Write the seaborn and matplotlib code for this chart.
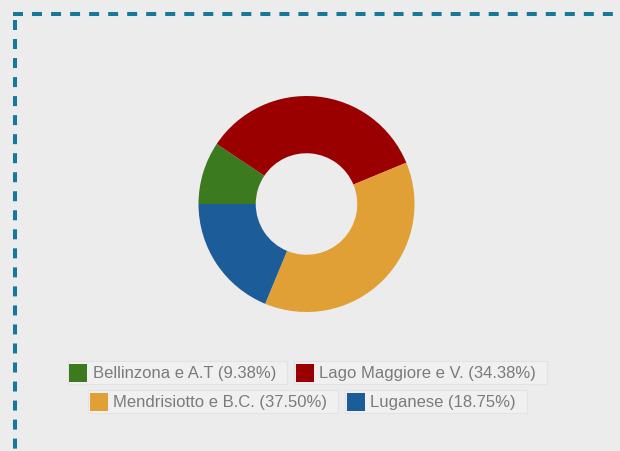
import matplotlib
matplotlib.use("Agg")
import matplotlib.pyplot as plt
import seaborn as sns
from matplotlib.lines import Line2D
from matplotlib.patches import Rectangle

# regions and their shares (%)
regions = ["Bellinzona e A.T", "Lago Maggiore e V.", "Mendrisiotto e B.C.", "Luganese"]
shares = [9.38, 34.38, 37.50, 18.75]
region_colors = ["#3b7a1f", "#9b0000", "#e1a036", "#1c5c99"]

legend_rows = [[0, 1], [2, 3]]

W, H = 620, 452
BG = "#ececec"

sns.set_theme(style="white", rc={"figure.facecolor": BG, "axes.facecolor": BG})
plt.rcParams["font.family"] = ["Liberation Sans", "DejaVu Sans"]
plt.rcParams["lines.scale_dashes"] = False
palette = sns.color_palette(region_colors)

fig = plt.figure(figsize=(W / 100, H / 100), dpi=100)


def fx(px):
    return px / W


def fy(py):
    return 1 - py / H


# dashed frame on top and left
dash_color = "#16799b"
fig.add_artist(Line2D([fx(13), fx(W + 5)], [fy(15), fy(15)], transform=fig.transFigure,
                      color=dash_color, lw=2.9, dashes=(7.2, 6.5), solid_capstyle="butt",
                      dash_capstyle="butt"))
fig.add_artist(Line2D([fx(14.5), fx(14.5)], [fy(20.5), fy(H + 5)], transform=fig.transFigure,
                      color=dash_color, lw=2.9, dashes=(7.2, 6.5), dash_capstyle="butt"))

# donut
cx, cy, r = 306.5, 205, 108
ax = fig.add_axes([fx(cx - r), fy(cy + r), 2 * r / W, 2 * r / H])
ax.pie(shares, colors=palette, startangle=180, counterclock=False,
       wedgeprops=dict(width=0.53, linewidth=0))
ax.set_xlim(-1, 1)
ax.set_ylim(-1, 1)
ax.axis("off")

# legend: one small box per entry, two centered rows
renderer = fig.canvas.get_renderer()
labels = [f"{n} ({s:.2f}%)" for n, s in zip(regions, shares)]
row_tops = [362, 391]
box_h = 22.5
gap = 7
center_x = 307.5
for row, top in zip(legend_rows, row_tops):
    widths = []
    for i in row:
        t = fig.text(0, 0, labels[i], fontsize=12)
        tw = t.get_window_extent(renderer).width
        t.remove()
        widths.append(1.5 + 18 + 5.5 + tw + 11)
    total = sum(widths) + gap * (len(row) - 1)
    x = center_x - total / 2
    for i, w in zip(row, widths):
        fig.add_artist(Rectangle((fx(x), fy(top + box_h)), w / W, box_h / H,
                                 transform=fig.transFigure, facecolor="#f0f0f0",
                                 edgecolor="#e3e3e3", lw=0.8))
        fig.add_artist(Rectangle((fx(x + 1.5), fy(top + 2.5 + 18)), 18 / W, 18 / H,
                                 transform=fig.transFigure, facecolor=palette[i],
                                 edgecolor="none"))
        fig.text(fx(x + 25), fy(top + box_h / 2 + 0.5), labels[i], fontsize=12,
                 color="#7b7b7b", va="center", ha="left")
        x += w + gap

fig.savefig("out.png", dpi=100, facecolor=BG)
